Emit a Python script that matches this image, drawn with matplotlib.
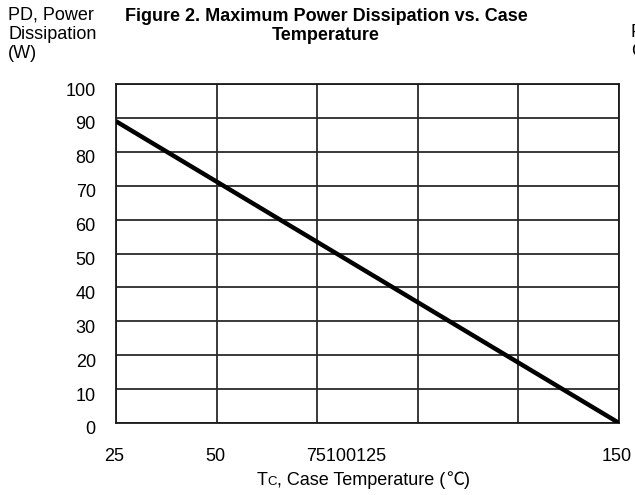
import matplotlib
matplotlib.use('Agg')
import matplotlib.pyplot as plt
import matplotlib.transforms as mtransforms

plt.rcParams['font.family'] = ['Liberation Sans', 'DejaVu Sans']

# data
temp = [25, 150]
power = [89, 0]
y_ticks = [0, 10, 20, 30, 40, 50, 60, 70, 80, 90, 100]
x_grid = [25, 50, 75, 100, 125, 150]
# the x labels are jammed together in the source chart
x_label_pos = [24.5, 49.6, 82.2, 149.5]
x_label_txt = ['25', '50', '75100125', '150']

fig = plt.figure(figsize=(6.35, 4.95), dpi=100)
ax = fig.add_axes([116/635, 72/495, 503/635, 339/495])

ax.plot(temp, power, color='black', lw=3.2, solid_capstyle='butt', zorder=3)
ax.set_xlim(25, 150)
ax.set_ylim(0, 100)
ax.set_xticks(x_grid)
ax.set_yticks(y_ticks)
ax.grid(True, color='#2a2a2a', lw=1.3)
for s in ax.spines.values():
    s.set_linewidth(1.3)
    s.set_color('#1a1a1a')
ax.tick_params(length=0, labelsize=13)
ax.tick_params(axis='y', pad=14.5)
ax.set_xticklabels([])
shift = mtransforms.ScaledTranslation(0, -5/100, fig.dpi_scale_trans)
for lab in ax.get_yticklabels():
    lab.set_transform(lab.get_transform() + shift)

trans = mtransforms.blended_transform_factory(ax.transData, ax.transAxes)
for x, lab in zip(x_label_pos, x_label_txt):
    ax.text(x, -0.099, lab, ha='center', va='center', fontsize=13, transform=trans)

# x axis title: T with small C, built piece by piece
fig.canvas.draw()
r = fig.canvas.get_renderer()
xp = 257 / 635
yb = 1 - 485 / 495
pieces = [('T', 13, None), ('C', 9.5, None),
          (', Case Temperature (', 13, None),
          ('\u2103', 13, ['Noto Sans CJK SC', 'DejaVu Sans']),
          (')', 13, None)]
for s, fs, fam in pieces:
    kw = {'family': fam} if fam else {}
    t = fig.text(xp, yb, s, fontsize=fs, ha='left', va='baseline', **kw)
    bb = t.get_window_extent(r)
    xp += bb.width / fig.bbox.width

fig.text(8/635, 1 - 6/495, 'PD, Power\nDissipation\n(W)', fontsize=13,
         ha='left', va='top', linespacing=1.2)
fig.text(326/635, 1 - 8/495, 'Figure 2. Maximum Power Dissipation vs. Case\nTemperature',
         fontsize=13, fontweight='bold', ha='center', va='top', linespacing=1.12)
fig.text(631/635, 1 - 24/495, 'P\nC', fontsize=13, ha='left', va='top', linespacing=1.15)

fig.savefig('out.png', dpi=100)
